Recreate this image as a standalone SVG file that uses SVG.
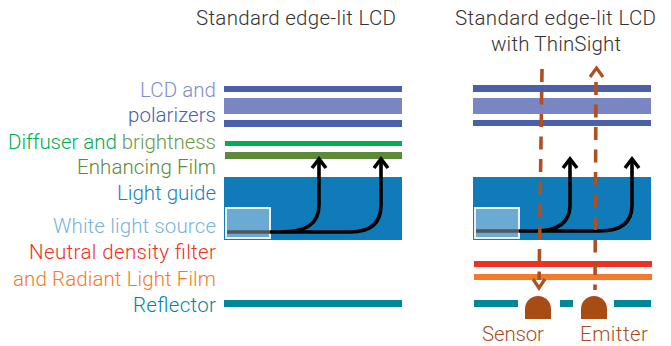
<svg xmlns="http://www.w3.org/2000/svg" width="671" height="346" viewBox="0 0 671 346">
<style>
text{font-family:"Roboto","Liberation Sans",sans-serif;font-size:20.5px;font-weight:300}
.e{text-anchor:end}
.m{text-anchor:middle;fill:#333}
.s{text-anchor:middle;fill:#a84f25}
.lcd{fill:#4a60ab}.pol{fill:#7a86c2}.gr{fill:#00ad50}.ol{fill:#5c8a38}.bl{fill:#0f7cb9}.red{fill:#ee3124}.or{fill:#f47a2a}.te{fill:#00869b}
.src{fill:#6babd3;stroke:#e8f2f8;stroke-width:2}
.k{fill:none;stroke:#000;stroke-width:3.6}
.g{fill:none;stroke:#555;stroke-width:3.6}
.d{fill:none;stroke:#b04f20;stroke-width:3.6;stroke-dasharray:13 9.5}
.h{fill:none;stroke:#b04f20;stroke-width:3.2}
.c{fill:#a84c15}
</style>
<g id="titles">
<text class="m" x="296" y="25" textLength="200">Standard edge-lit LCD</text>
<text class="m" x="555.500" y="25" textLength="201">Standard edge-lit LCD</text>
<text class="m" x="556" y="51" textLength="130">with ThinSight</text>
</g>
<g id="labels">
<text class="e" x="216" y="97" fill="#7f8cc8" textLength="76">LCD and</text>
<text class="e" x="216" y="122" fill="#4a60ab" textLength="88">polarizers</text>
<text class="e" x="216" y="149" textLength="208"><tspan fill="#00ad50">Diffuser and </tspan><tspan fill="#6a9a46">brightness</tspan></text>
<text class="e" x="216" y="174" fill="#5c8a38" textLength="139">Enhancing Film</text>
<text class="e" x="216" y="200" fill="#1a80bf" textLength="99">Light guide</text>
<text class="e" x="216" y="233" fill="#79b3da" textLength="163">White light source</text>
<text class="e" x="216" y="259" fill="#ee3124" textLength="187">Neutral density filter</text>
<text class="e" x="216" y="286" fill="#f47a2a" textLength="203">and Radiant Light Film</text>
<text class="e" x="216" y="312" fill="#00869b" textLength="83">Reflector</text>
</g>
<g id="left-stack">
<rect class="lcd" x="224" y="86" width="178" height="6"/>
<rect class="pol" x="224" y="98" width="178" height="16"/>
<rect class="lcd" x="224" y="120" width="178" height="7"/>
<rect class="gr" x="225" y="141" width="177" height="5"/>
<rect class="ol" x="225" y="152" width="177" height="7"/>
<rect class="bl" x="224" y="177" width="178" height="63"/>
<rect class="src" x="226" y="208" width="44" height="30"/>
<rect class="te" x="224" y="300" width="178" height="7"/>
</g>
<g id="right-stack">
<rect class="lcd" x="473" y="85" width="178" height="7"/>
<rect class="pol" x="473" y="98" width="178" height="16"/>
<rect class="lcd" x="473" y="120" width="178" height="6"/>
<rect class="bl" x="473" y="177" width="178" height="63"/>
<rect class="src" x="475" y="208" width="44" height="30"/>
<rect class="red" x="474" y="261" width="178" height="6"/>
<rect class="or" x="474" y="274" width="178" height="6"/>
<rect class="te" x="474" y="300" width="44" height="7"/>
<rect class="te" x="560" y="300" width="13" height="7"/>
<rect class="te" x="614" y="300" width="37" height="7"/>
</g>
<g id="connectors">
<path class="g" d="M227 232H270"/>
<path class="k" d="M270 232H280C305 232 319 225 319 205V160M270 232H350C372 232 381 222 381 205V160"/>
<path class="k" d="M312 168L319 159L326 168M374 168L381 159L388 168"/>
<path class="g" d="M476 231H519"/>
<path class="k" d="M519 231H535C555 231 570 225 570 205V160M519 231H600C622 231 632 222 632 205V160"/>
<path class="k" d="M563 168L570 159L577 168M625 168L632 159L639 168"/>
<path class="d" d="M542 69L539.100 280"/>
<path class="d" d="M596 82L595 290"/>
<path class="h" d="M533 279L539 288L545 279M590 77L596.500 68L603 77"/>
</g>
<g id="sensor"><path class="c" d="M525 319V309A13 13 0 0 1 551 309V319Z"/><text class="s" x="513" y="341" textLength="62">Sensor</text></g>
<g id="emitter"><path class="c" d="M581 319V309A13 13 0 0 1 607 309V319Z"/><text class="s" x="614" y="341" textLength="68">Emitter</text></g>
</svg>
